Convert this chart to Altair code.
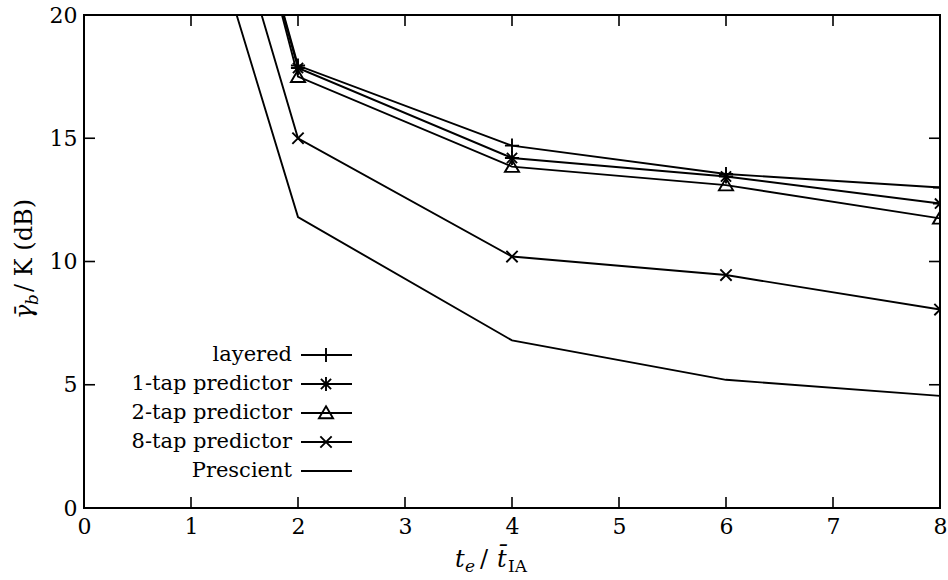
import altair as alt
import pandas as pd

# ---- data ----
x_vals = [1, 2, 4, 6, 8]
layered = [33.5, 17.95, 14.7, 13.55, 13.0]
tap1 = [33.5, 17.85, 14.2, 13.45, 12.35]
tap2 = [34.2, 17.5, 13.85, 13.1, 11.75]
tap8 = [29.7, 15.0, 10.2, 9.45, 8.05]
prescient = [26.1, 11.8, 6.8, 5.2, 4.55]

series_names = ["layered", "1-tap predictor", "2-tap predictor", "8-tap predictor", "Prescient"]
series_vals = [layered, tap1, tap2, tap8, prescient]

x_ticks = [0, 1, 2, 3, 4, 5, 6, 7, 8]
y_ticks = [0, 5, 10, 15, 20]

rows = []
for name, vals in zip(series_names, series_vals):
    for xv, yv in zip(x_vals, vals):
        rows.append({"series": name, "x": xv, "y": yv})
df = pd.DataFrame(rows)

W, H = 856, 493
FONT = "DejaVu Serif"
LW = 1.9

shape_paths = [
    "M-1,0L1,0M0,-1L0,1",
    "M-1,0L1,0M0,-1L0,1M-0.72,-0.72L0.72,0.72M-0.72,0.72L0.72,-0.72",
    "M0,-0.95L1,0.75L-1,0.75Z",
    "M-0.8,-0.8L0.8,0.8M-0.8,0.8L0.8,-0.8",
]
marker_names = series_names[:4]
shape_scale = alt.Scale(domain=marker_names, range=shape_paths)

xscale = alt.Scale(domain=[0, 8], nice=False, zero=False)
yscale = alt.Scale(domain=[0, 20], nice=False, zero=False)
xaxis = alt.Axis(values=x_ticks, title=None)
yaxis = alt.Axis(values=y_ticks, title=None)

base = alt.Chart(df)
lines = base.mark_line(clip=True, color="black", strokeWidth=LW).encode(
    x=alt.X("x:Q", scale=xscale, axis=xaxis),
    y=alt.Y("y:Q", scale=yscale, axis=yaxis),
    detail="series:N",
)
points = base.transform_filter(alt.datum.series != "Prescient").mark_point(
    clip=True, filled=False, color="black", strokeWidth=LW, size=200, opacity=1
).encode(
    x=alt.X("x:Q", scale=xscale, axis=xaxis),
    y=alt.Y("y:Q", scale=yscale, axis=yaxis),
    shape=alt.Shape("series:N", scale=shape_scale, legend=None),
)

# inward ticks on all four sides
xt = alt.Chart(pd.DataFrame({"t": x_ticks}))
yt = alt.Chart(pd.DataFrame({"t": y_ticks}))
tick_style = dict(color="black", strokeWidth=1.6)
xb = xt.mark_rule(**tick_style).encode(x=alt.X("t:Q", scale=xscale, axis=xaxis), y=alt.value(H), y2=alt.value(H - 11))
xtop = xt.mark_rule(**tick_style).encode(x=alt.X("t:Q", scale=xscale, axis=xaxis), y=alt.value(0), y2=alt.value(11))
yl = yt.mark_rule(**tick_style).encode(y=alt.Y("t:Q", scale=yscale, axis=yaxis), x=alt.value(0), x2=alt.value(11))
yr = yt.mark_rule(**tick_style).encode(y=alt.Y("t:Q", scale=yscale, axis=yaxis), x=alt.value(W), x2=alt.value(W - 11))

# legend (label on the left, sample on the right)
leg = alt.Chart(pd.DataFrame({"series": series_names, "row": list(range(5))})).transform_calculate(
    ly="340 + 29 * datum.row"
)
leg_text = leg.mark_text(align="right", baseline="middle", font=FONT, fontSize=21, color="black").encode(
    x=alt.value(208), y=alt.Y("ly:Q", scale=None, axis=None), text="series:N"
)
leg_line = leg.mark_rule(color="black", strokeWidth=LW).encode(
    x=alt.value(217), x2=alt.value(268), y=alt.Y("ly:Q", scale=None, axis=None)
)
leg_pts = leg.transform_filter(alt.datum.series != "Prescient").mark_point(
    filled=False, color="black", strokeWidth=LW, size=200, opacity=1
).encode(
    x=alt.value(242), y=alt.Y("ly:Q", scale=None, axis=None),
    shape=alt.Shape("series:N", scale=shape_scale, legend=None),
)

# axis titles built from pieces (sub/superscripts)
def txt(s, x, y, size=24, style="normal", angle=0, weight="normal", align="left"):
    return alt.Chart(pd.DataFrame({"s": [s]})).mark_text(
        align=align, baseline="alphabetic", font=FONT, fontSize=size, fontStyle=style,
        fontWeight=weight, angle=angle, color="black"
    ).encode(x=alt.value(x), y=alt.value(y), text="s:N")

ytitle = [
    txt("\u03b3\u0304", -52, 304, style="italic", angle=270),
    txt("b", -46, 290, size=17, style="italic", angle=270),
    txt("/ K (dB)", -52, 277, angle=270),
]
xtitle = [
    txt("t", 371, 552, style="italic"),
    txt("e", 381, 557, size=17, style="italic"),
    txt("/", 396, 552),
    txt("t\u0304", 413, 552, style="italic"),
    txt("IA", 424, 557, size=17),
]

chart = alt.layer(
    lines, points, xb, xtop, yl, yr, leg_line, leg_pts, leg_text, *ytitle, *xtitle
).properties(
    width=W, height=H,
    background="white",
    autosize=alt.AutoSizeParams(type="none"),
    padding={"left": 84, "top": 15, "right": 8, "bottom": 72},
).configure_view(stroke="black", strokeWidth=2).configure_axis(
    labelFont=FONT, labelFontSize=22, labelColor="black", tickSize=0, domain=False,
    grid=False, format="d"
).configure_axisX(
    labelPadding=8, labelFlush=False
).configure_axisY(
    labelPadding=7
)

chart.save("out.html", embed_options={"renderer": "svg", "actions": False})
